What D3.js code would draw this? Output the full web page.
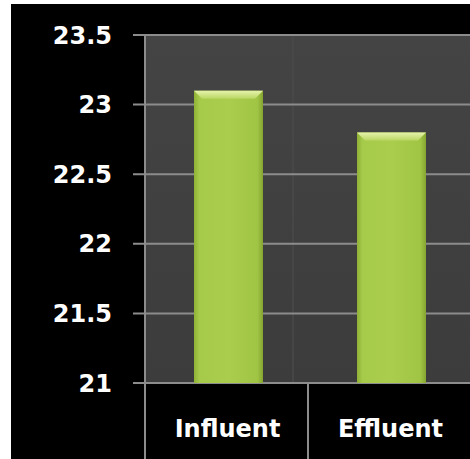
<!DOCTYPE html>
<html><head><meta charset="utf-8">
<script src="https://d3js.org/d3.v7.min.js"></script>
<style>html,body{margin:0;padding:0;background:#fff;}svg{display:block;}</style>
</head><body>
<script>
const categories = ["Influent", "Effluent"];
const values = [23.1, 22.8];
const yTicks = [21, 21.5, 22, 22.5, 23, 23.5];
const yTickLabels = ["21", "21.5", "22", "22.5", "23", "23.5"];

const W = 470, H = 459;
const svg = d3.select("body").append("svg").attr("width", W).attr("height", H);
const defs = svg.append("defs");

// black panel with white border on top/left
svg.append("rect").attr("x", 0).attr("y", 0).attr("width", W).attr("height", H).attr("fill", "#fff");
svg.append("rect").attr("x", 11).attr("y", 4).attr("width", W - 11).attr("height", H - 4).attr("fill", "#000");

const plot = {left: 145, right: 471, top: 35, bottom: 383};
const x = d3.scaleBand().domain(categories).range([plot.left, plot.right]).paddingInner(0).paddingOuter(0);
const y = d3.scaleLinear().domain([21, 23.5]).range([plot.bottom, plot.top]);

// plot background gradient
const bg = defs.append("linearGradient").attr("id", "bg").attr("x1", 0).attr("y1", 0).attr("x2", 0).attr("y2", 1);
bg.append("stop").attr("offset", "0%").attr("stop-color", "#444444");
bg.append("stop").attr("offset", "100%").attr("stop-color", "#3c3c3c");
svg.append("rect").attr("x", plot.left).attr("y", plot.top)
  .attr("width", plot.right - plot.left).attr("height", plot.bottom - plot.top).attr("fill", "url(#bg)");

// faint back-wall divider
svg.append("line").attr("x1", 293).attr("x2", 293).attr("y1", plot.top).attr("y2", plot.bottom)
  .attr("stroke", "#4a4a4a").attr("stroke-width", 1.5);

// gridlines
svg.append("g").selectAll("line").data(yTicks).join("line")
  .attr("x1", 133).attr("x2", plot.right)
  .attr("y1", d => y(d)).attr("y2", d => y(d))
  .attr("stroke", "#8c8c8c").attr("stroke-width", 2);

// y axis line
svg.append("line").attr("x1", plot.left).attr("x2", plot.left).attr("y1", plot.top).attr("y2", H)
  .attr("stroke", "#8c8c8c").attr("stroke-width", 2);
// category separators below axis
svg.append("g").selectAll("line").data(categories.slice(1)).join("line")
  .attr("x1", d => x(d)).attr("x2", d => x(d)).attr("y1", plot.bottom).attr("y2", H)
  .attr("stroke", "#8c8c8c").attr("stroke-width", 2);

// bar gradients
const gh = defs.append("linearGradient").attr("id", "barH").attr("x1", 0).attr("y1", 0).attr("x2", 1).attr("y2", 0);
gh.append("stop").attr("offset", "0%").attr("stop-color", "#8fb236");
gh.append("stop").attr("offset", "8%").attr("stop-color", "#a6ca4a");
gh.append("stop").attr("offset", "50%").attr("stop-color", "#aacd4e");
gh.append("stop").attr("offset", "92%").attr("stop-color", "#a0c444");
gh.append("stop").attr("offset", "100%").attr("stop-color", "#84a630");
const gv = defs.append("linearGradient").attr("id", "barTop").attr("x1", 0).attr("y1", 0).attr("x2", 0).attr("y2", 1);
gv.append("stop").attr("offset", "0%").attr("stop-color", "#e6f3ad");
gv.append("stop").attr("offset", "100%").attr("stop-color", "#bad762");

const barW = 69;
const bars = svg.append("g").selectAll("g").data(values).join("g");
bars.append("rect")
  .attr("x", (d, i) => x(categories[i]) + x.bandwidth() / 2 - barW / 2 + 2)
  .attr("y", d => y(d))
  .attr("width", barW).attr("height", d => plot.bottom - y(d))
  .attr("fill", "url(#barH)");
// bevel top
bars.append("path")
  .attr("d", (d, i) => {
    const x0 = x(categories[i]) + x.bandwidth() / 2 - barW / 2 + 2, x1 = x0 + barW, t = y(d), b = 8;
    return `M${x0},${t}L${x1},${t}L${x1 - b},${t + b}L${x0 + b},${t + b}Z`;
  })
  .attr("fill", "url(#barTop)");

// y tick labels
svg.append("g").selectAll("text").data(yTicks).join("text")
  .attr("x", 112).attr("y", d => y(d)).attr("dy", "0.36em")
  .attr("text-anchor", "end").attr("fill", "#fff")
  .attr("font-family", "'DejaVu Sans', sans-serif").attr("font-weight", "bold").attr("font-size", 24)
  .text((d, i) => yTickLabels[i]);

// category labels
svg.append("g").selectAll("text").data(categories).join("text")
  .attr("x", d => x(d) + x.bandwidth() / 2 + 1).attr("y", 437)
  .attr("text-anchor", "middle").attr("fill", "#fff")
  .attr("font-family", "'DejaVu Sans', sans-serif").attr("font-weight", "bold").attr("font-size", 24)
  .text(d => d);
</script>
</body></html>
